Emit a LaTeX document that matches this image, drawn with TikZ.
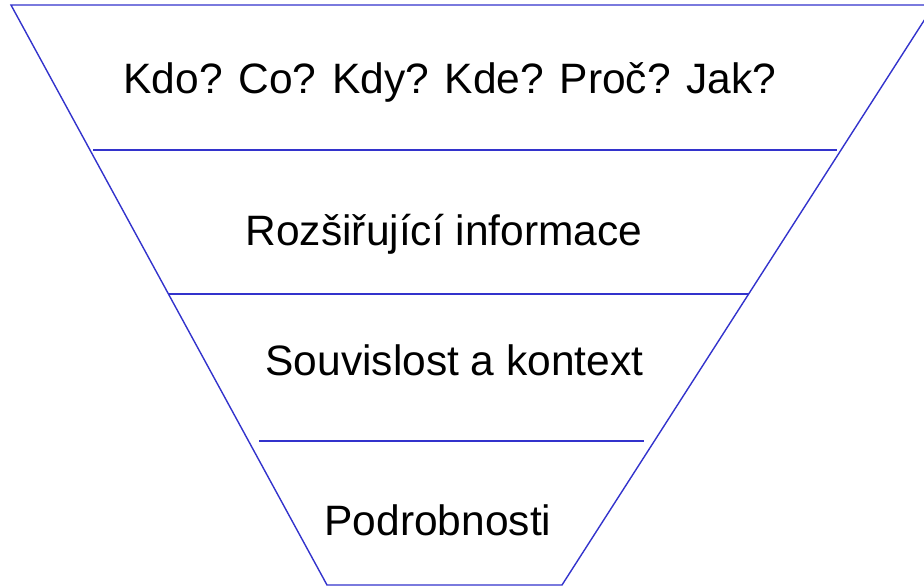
\documentclass[tikz,border=0pt]{standalone}
\usepackage{fontspec}
\setmainfont{Liberation Sans}
\definecolor{funnelblue}{HTML}{3333CC}
\begin{document}
\begin{tikzpicture}[x=1pt,y=-1pt,
  edge/.style={draw=funnelblue,line width=1.4pt},
  label/.style={anchor=base,inner sep=0pt,font=\fontsize{42.5}{50}\selectfont,text=black}]
\useasboundingbox (0,0) rectangle (924,587);
\clip (0,0) rectangle (924,587);
% funnel outline
\coordinate (tl) at (11,5);
\coordinate (tr) at (934,5);
\coordinate (bl) at (327,585);
\coordinate (br) at (562,585);
\draw[edge,line join=miter] (tr) -- (tl) -- (bl) -- (br) -- cycle;
% divider lines
\coordinate (d1l) at (93,150);
\coordinate (d1r) at (837,150);
\coordinate (d2l) at (168,294);
\coordinate (d2r) at (749,294);
\coordinate (d3l) at (259,441);
\coordinate (d3r) at (644,441);
\draw[edge] (d1l) -- (d1r);
\draw[edge] (d2l) -- (d2r);
\draw[edge] (d3l) -- (d3r);
% labels
\node[label] (t1) at (450,93) {Kdo? Co? Kdy? Kde? Proč? Jak?};
\node[label] (t2) at (444,245) {Rozšiřující informace};
\node[label] (t3) at (454.5,375) {Souvislost a kontext};
\node[label] (t4) at (438,535) {Podrobnosti};
\end{tikzpicture}
\end{document}
